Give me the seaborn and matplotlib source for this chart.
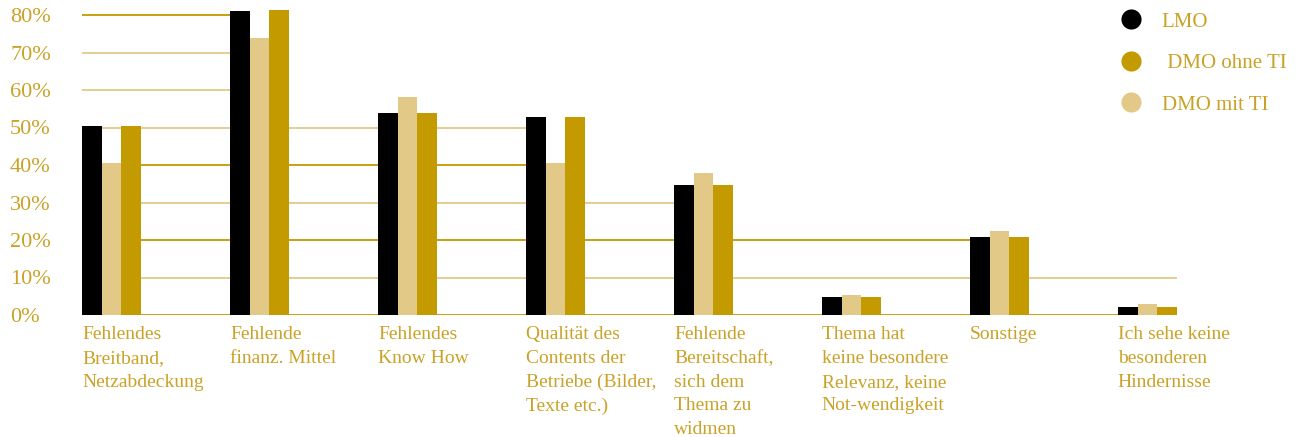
import numpy as np
import pandas as pd
import matplotlib
matplotlib.use("Agg")
import matplotlib.pyplot as plt
import seaborn as sns
from matplotlib.lines import Line2D

# ---- data ----
categories = [
    "Fehlendes\nBreitband,\nNetzabdeckung",
    "Fehlende\nfinanz. Mittel",
    "Fehlendes\nKnow How",
    "Qualität des\nContents der\nBetriebe (Bilder,\nTexte etc.)",
    "Fehlende\nBereitschaft,\nsich dem\nThema zu\nwidmen",
    "Thema hat\nkeine besondere\nRelevanz, keine\nNot-wendigkeit",
    "Sonstige",
    "Ich sehe keine\nbesonderen\nHindernisse",
]
lmo = [50.5, 81.0, 54.0, 52.8, 34.8, 4.9, 20.8, 2.2]
dmo_mit_ti = [40.5, 74.0, 58.2, 40.5, 37.9, 5.4, 22.5, 2.9]
dmo_ohne_ti = [50.5, 81.3, 54.0, 52.8, 34.8, 4.9, 20.8, 2.2]
series_order = ["LMO", "DMO mit TI", "DMO ohne TI"]
legend_order = ["LMO", "DMO ohne TI", "DMO mit TI"]
ytick_values = [0, 10, 20, 30, 40, 50, 60, 70, 80]
ytick_labels = ["0%", "10%", "20%", "30%", "40%", "50%", "60%", "70%", "80%"]

# ---- style ----
BLACK = "#000000"
GOLD = "#C39A00"
TAN = "#E3C988"
TEXT = "#C9A227"
palette = {"LMO": BLACK, "DMO mit TI": TAN, "DMO ohne TI": GOLD}
grid_colors = [GOLD, TAN, GOLD, TAN, GOLD, TAN, TAN, TAN, GOLD]
grid_ends = [7.2, 7.2, 5.8, 3.8, 2.8, 2.8, 0.8, 0.8, 0.8]

sns.set_style("white")
plt.rcParams["font.family"] = ["Liberation Serif", "DejaVu Serif"]

df = pd.DataFrame({
    "cat": np.repeat(categories, 3),
    "series": series_order * len(categories),
    "value": np.ravel(np.column_stack([lmo, dmo_mit_ti, dmo_ohne_ti])),
})

W, H = 1299, 437
fig = plt.figure(figsize=(W / 100, H / 100), dpi=100)
ax = fig.add_axes([82 / W, 122 / H, (1177 - 82) / W, 307.5 / H])

sns.barplot(data=df, x="cat", y="value", hue="series", hue_order=series_order,
            order=categories, palette=palette, width=0.4, gap=0, saturation=1,
            linewidth=0, legend=False, ax=ax, zorder=3)

for lvl, col, end in zip(ytick_values, grid_colors, grid_ends):
    ax.plot([-0.2, end], [lvl, lvl], color=col, lw=1.3, zorder=1,
            solid_capstyle="butt")

ax.set_xlim(-0.2, 7.2)
ax.set_ylim(0, 82)
for s in ax.spines.values():
    s.set_visible(False)
ax.set_xlabel("")
ax.set_ylabel("")

ax.set_yticks(ytick_values)
ax.set_yticklabels(ytick_labels, fontsize=16, color=TEXT, ha="left", va="center_baseline")
ax.tick_params(axis="y", length=0, pad=51.8)

ax.set_xticks(np.arange(len(categories)) - 0.2)
ax.set_xticklabels(categories, fontsize=14, color=TEXT, ha="left", va="top",
                   linespacing=1.52)
ax.tick_params(axis="x", length=0, pad=8)

handles = [Line2D([], [], marker="o", ls="", markersize=14.5,
                  markerfacecolor=palette[s], markeredgewidth=0)
           for s in legend_order]
labels = ["LMO", " DMO ohne TI", "DMO mit TI"]
leg = fig.legend(handles, labels, loc="upper left",
                 bbox_to_anchor=(1121 / W, 1 - 12 / H), frameon=False,
                 fontsize=15, labelspacing=1.05, handlelength=1.0,
                 handletextpad=0.95, borderaxespad=0, borderpad=0)
for t in leg.get_texts():
    t.set_color(TEXT)

fig.savefig("out.png", dpi=100)
